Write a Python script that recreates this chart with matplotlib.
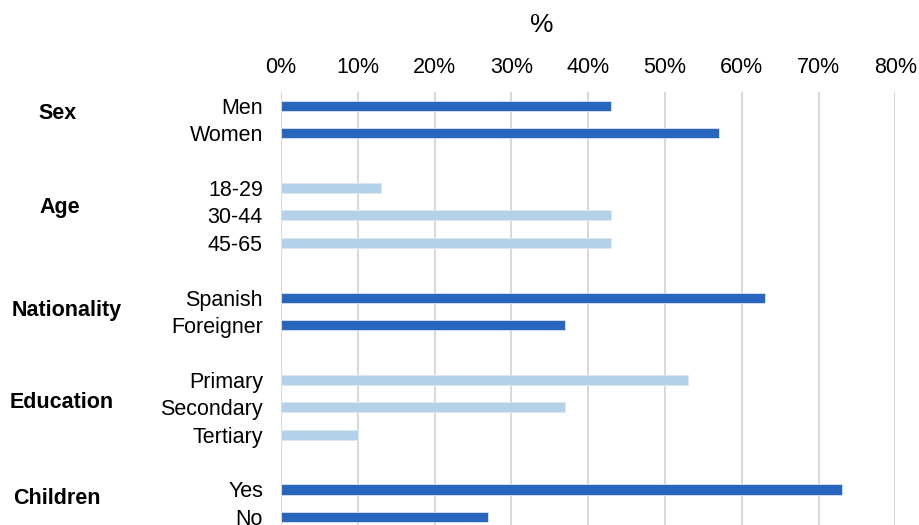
import matplotlib
matplotlib.use("Agg")
import matplotlib.pyplot as plt

plt.rcParams['font.family'] = ['Liberation Sans', 'DejaVu Sans']

groups = ["Sex", "Age", "Nationality", "Education", "Children"]
group_items = [
    ["Men", "Women"],
    ["18-29", "30-44", "45-65"],
    ["Spanish", "Foreigner"],
    ["Primary", "Secondary", "Tertiary"],
    ["Yes", "No"],
]
group_values = [
    [43, 57],
    [13, 43, 43],
    [63, 37],
    [53, 37, 10],
    [73, 27],
]
dark = "#2866BE"
light = "#B4D1EA"
group_colors = [dark, light, dark, light, dark]

ticks = [0, 10, 20, 30, 40, 50, 60, 70, 80]

# where the bold group names sit (figure pixels, x centre) and nudge in rows
label_x = [58, 60, 67, 62, 57]
label_dy = [-0.2, -0.27, -0.02, -0.16, -0.16]

fig = plt.figure(figsize=(9.19, 5.25), dpi=100)
W, H = 919, 525
# axes from x=281 to 895 px, y=92 to ~531 px (runs past bottom edge)
ax = fig.add_axes([281 / W, (H - 530.6) / H, (895.3 - 281) / W, (530.6 - 92) / H])
px = 10 / 76.8  # data units per pixel along x

pos = 0
ypos, labels = [], []
for i, (g, items, vals, col) in enumerate(zip(groups, group_items, group_values, group_colors)):
    ys = list(range(pos, pos + len(items)))
    ax.barh(ys, vals, height=0.37, color=col, edgecolor="#DCE6F5", linewidth=0.6, zorder=3)
    ypos += ys
    labels += items
    mid = (ys[0] + ys[-1]) / 2 + label_dy[i]
    ax.text((label_x[i] - 281) * px, mid, g, ha="center", va="center",
            fontsize=15.5, fontweight="bold", color="black")
    pos += len(items) + 1

ax.set_xlim(0, 80)
ax.set_ylim(15.5, -0.5)
ax.set_yticks(ypos)
ax.set_yticklabels(labels, fontsize=15.5)
ax.set_xticks(ticks)
ax.set_xticklabels([f"{t}%" for t in ticks], fontsize=15.5)
ax.xaxis.tick_top()
ax.tick_params(axis="both", length=0)
ax.tick_params(axis="x", pad=10)
ax.tick_params(axis="y", pad=13)
ax.grid(axis="x", color="#D9D9D9", linewidth=1.5, zorder=0)
for s in ax.spines.values():
    s.set_visible(False)

fig.text(541.7 / W, 1 - 24.5 / H, "%", ha="center", va="center",
         fontsize=19, fontweight="medium")

fig.savefig("out.png", dpi=100)
